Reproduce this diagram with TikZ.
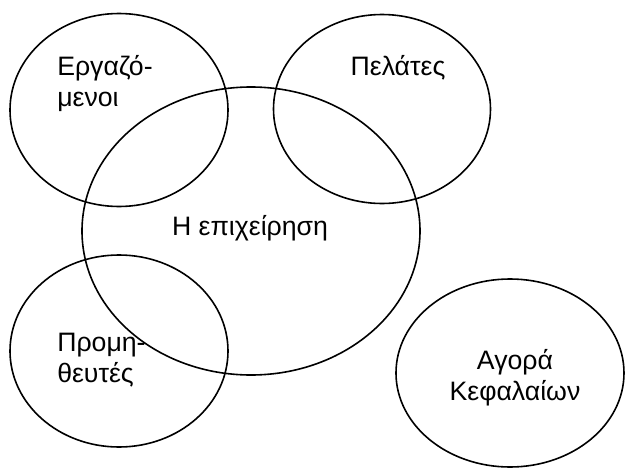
\documentclass[tikz,border=0pt]{standalone}
\usepackage{fontspec}
\setmainfont{Liberation Sans}
\usepackage{tikz}
\usetikzlibrary{shapes.geometric}

\begin{document}
\begin{tikzpicture}
  [
    x=0.75pt,y=-0.75pt,
    set/.style={draw,ellipse,line width=1.2pt,inner sep=0pt},
    tag/.style={inner sep=0pt,font=\fontsize{20}{23.25}\selectfont}
  ]
  \useasboundingbox (0,0) rectangle (626,468);
  % the sets
  \node[set,minimum width=163.5pt,minimum height=144.75pt] (staff) at (119,110) {};
  \node[set,minimum width=162.75pt,minimum height=141.75pt] (clients) at (382,109) {};
  \node[set,minimum width=253.5pt,minimum height=216pt] (firm) at (251,231) {};
  \node[set,minimum width=163.5pt,minimum height=144pt] (suppliers) at (119,351) {};
  \node[set,minimum width=171pt,minimum height=141pt] (capital) at (510,373) {};
  % the names
  \node[tag,align=left,anchor=north west] (staffname) at (57,55) {Εργαζό-\\μενοι};
  \node[tag,anchor=base] (clientsname) at (398,75) {Πελάτες};
  \node[tag,anchor=base] (firmname) at (250,235) {Η επιχείρηση};
  \node[tag,align=left,anchor=north west] (suppliersname) at (57,333) {Προμη-\\θευτές};
  \node[tag,align=center,anchor=north] (capitalname) at (515,349) {Αγορά\\Κεφαλαίων};
\end{tikzpicture}
\end{document}
